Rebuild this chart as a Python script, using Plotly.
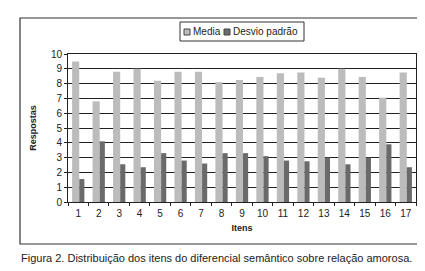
import plotly.graph_objects as go

itens = [str(i) for i in range(1, 18)]
media = [9.5, 6.8, 8.8, 9.0, 8.2, 8.8, 8.8, 8.1, 8.25, 8.45, 8.7, 8.75, 8.4, 9.0, 8.45, 7.05, 8.75]
desvio = [1.55, 4.1, 2.55, 2.35, 3.3, 2.8, 2.6, 3.3, 3.3, 3.1, 2.8, 2.75, 3.0, 2.55, 3.0, 3.9, 2.35]
yticks = list(range(0, 11))
series_names = ["Media", "Desvio padrão"]
series_colors = ["#bcbcbc", "#6a6a6a"]

fig = go.Figure()
fig.add_trace(go.Bar(x=itens, y=media, name=series_names[0],
                     marker=dict(color=series_colors[0], line=dict(width=0)),
                     width=0.35, offset=-0.30))
fig.add_trace(go.Bar(x=itens, y=desvio, name=series_names[1],
                     marker=dict(color=series_colors[1], line=dict(width=0)),
                     width=0.25, offset=0.05))

W, H = 425, 271
L, R, T, B = 60, 17, 46, 77
pw, ph = W - L - R, H - T - B

def px(x):
    return (x - L) / pw

def py(y):
    return (H - B - y) / ph

shapes = [
    dict(type="rect", xref="paper", yref="paper", x0=px(12), x1=px(415), y0=py(236), y1=py(10),
         line=dict(color="#333", width=1.2)),
    # legend box
    dict(type="rect", xref="paper", yref="paper", x0=px(172), x1=px(296), y0=py(33), y1=py(14),
         line=dict(color="#333", width=1), fillcolor="white"),
    dict(type="rect", xref="paper", yref="paper", x0=px(176), x1=px(182), y0=py(27), y1=py(21),
         line=dict(color="#444", width=1), fillcolor=series_colors[0]),
    dict(type="rect", xref="paper", yref="paper", x0=px(216), x1=px(222), y0=py(27), y1=py(21),
         line=dict(color="#444", width=1), fillcolor=series_colors[1]),
]
annotations = [
    dict(text=series_names[0], xref="paper", yref="paper", x=px(183), y=py(24), xanchor="left",
         yanchor="middle", showarrow=False, font=dict(size=10, color="#222")),
    dict(text=series_names[1], xref="paper", yref="paper", x=px(223), y=py(24), xanchor="left",
         yanchor="middle", showarrow=False, font=dict(size=10, color="#222")),
    dict(text="Figura 2. Distribuição dos itens do diferencial semântico sobre relação amorosa.",
         xref="paper", yref="paper", x=px(11), y=py(250), xanchor="left", yanchor="middle",
         showarrow=False, font=dict(size=11, color="#222")),
]

fig.update_layout(
    width=W, height=H,
    margin=dict(l=L, r=R, t=T, b=B),
    paper_bgcolor="white", plot_bgcolor="white",
    barmode="overlay",
    font=dict(family="Liberation Sans, Arial, sans-serif", size=10, color="#222"),
    showlegend=False,
    xaxis=dict(type="category", showgrid=False, ticks="outside", tickson="boundaries",
               ticklen=3, tickcolor="#222", showline=True, linecolor="#222", linewidth=1,
               mirror=True, ticklabelstandoff=2, tickangle=0,
               title=dict(text="<b>Itens</b>", font=dict(size=9), standoff=6)),
    yaxis=dict(range=[0, 10], tickvals=yticks, showgrid=True, gridcolor="#222", gridwidth=1,
               ticks="outside", ticklen=3, tickcolor="#222", showline=True, linecolor="#222",
               mirror=True, zeroline=False,
               title=dict(text="<b>Respostas</b>", font=dict(size=9), standoff=12)),
    shapes=shapes,
    annotations=annotations,
)

fig.write_html("out.html")
